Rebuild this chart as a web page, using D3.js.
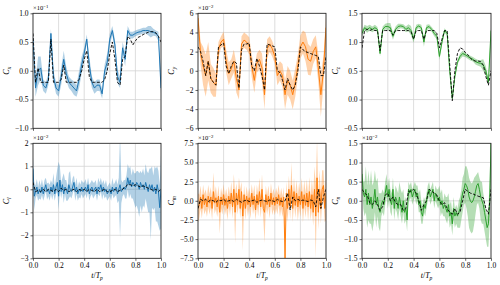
<!DOCTYPE html>
<html>
<head>
<meta charset="utf-8">
<script src="https://cdn.jsdelivr.net/npm/d3@7"></script>
<style>
  body { margin: 0; background: #fff; }
  text { font-family: "Liberation Serif", serif; fill: #000; }
</style>
</head>
<body>
<div id="chart"></div>
<script>
////////////////////////////////////////////////////////////////////////////////////////
// Data (read from the picture), force coeffs sampled every 0.02, moments every 0.01
var xTicks = [0, 0.2, 0.4, 0.6, 0.8, 1.0];

// Cx (x 10^-1)
var cxMean = [0.55,-0.3,0.0,0.05,-0.25,-0.3,-0.15,0.65,-0.1,-0.3,-0.35,-0.1,0.2,-0.05,-0.2,-0.25,-0.3,-0.35,-0.15,0.1,0.3,0.55,0.1,-0.2,-0.3,-0.25,-0.25,-0.4,0.0,0.15,0.55,0.7,0.45,-0.1,-0.2,0.4,0.2,0.7,0.62,0.62,0.65,0.67,0.68,0.7,0.7,0.7,0.68,0.67,0.65,0.6,-0.3];
var cxStd = [0.1,0.15,0.25,0.2,0.1,0.1,0.1,0.08,0.1,0.1,0.1,0.15,0.15,0.12,0.1,0.1,0.12,0.1,0.15,0.15,0.1,0.08,0.15,0.1,0.1,0.1,0.1,0.08,0.12,0.15,0.1,0.08,0.1,0.12,0.1,0.1,0.12,0.08,0.06,0.06,0.05,0.05,0.05,0.05,0.05,0.08,0.1,0.06,0.05,0.08,0.1];
var cxRef = [0.65,-0.2,0.05,-0.2,-0.2,-0.2,-0.2,0.55,-0.2,-0.2,-0.2,-0.15,0.1,-0.2,-0.2,-0.2,-0.2,-0.2,-0.15,0.0,0.2,0.35,-0.1,-0.2,-0.2,-0.2,-0.2,-0.2,-0.15,0.0,0.3,0.5,0.2,-0.2,-0.25,0.2,0.25,0.6,0.55,0.45,0.52,0.58,0.6,0.63,0.65,0.67,0.68,0.68,0.66,0.6,0.5];

// Cy (x 10^-2)
var cyMean = [5.5,1.8,0.5,-0.5,1.0,-0.8,-1.2,-1.5,2.2,3.0,3.3,1.0,-0.3,0.2,1.0,-0.8,-2.0,2.8,3.2,3.0,2.6,0.5,-1.0,0.8,1.2,0.3,-2.5,2.3,2.8,2.3,1.5,-0.5,0.0,-0.5,-2.5,-1.0,-1.5,-2.5,-1.2,0.5,2.5,3.0,2.5,1.2,1.0,2.0,2.5,0.3,-2.5,0.0,4.5];
var cyStd = [1.0,1.2,2.0,2.2,2.0,1.5,1.5,1.2,0.8,0.6,0.8,1.2,1.2,1.0,1.2,1.5,1.0,0.8,0.8,0.8,0.9,1.2,1.3,1.0,1.0,1.5,1.5,1.0,0.8,0.8,0.8,1.0,1.0,1.2,1.5,1.5,1.5,1.5,1.5,1.2,1.2,1.2,1.5,1.6,1.5,1.3,1.2,1.5,2.3,1.5,1.2];
var cyRef = [2.5,2.0,1.0,-0.5,1.0,-0.8,-1.2,-1.5,2.5,2.7,2.9,0.5,-0.3,0.5,1.0,0.8,-1.8,2.2,2.8,2.8,2.9,0.5,0.0,1.3,0.5,-0.5,-2.0,2.8,2.7,2.6,2.5,0.0,-0.2,-1.0,-2.0,-0.8,-1.5,-2.0,-1.5,0.0,2.5,2.2,2.0,1.9,1.8,1.7,1.6,1.5,-0.5,-0.5,1.5];

// Cz
var czMean = [1.15,1.25,1.22,1.25,1.22,1.25,1.22,0.8,1.22,1.27,1.27,1.25,1.1,1.22,1.27,1.28,1.27,1.22,1.25,1.2,1.05,1.25,1.28,1.25,1.0,1.25,1.27,1.22,1.15,1.1,0.75,1.0,1.2,1.15,0.5,0.02,0.4,0.65,0.75,0.8,0.78,0.75,0.72,0.7,0.66,0.64,0.63,0.6,0.5,0.3,1.2];
var czStd = [0.05,0.05,0.06,0.05,0.05,0.05,0.04,0.05,0.05,0.05,0.06,0.08,0.06,0.05,0.05,0.04,0.04,0.05,0.06,0.08,0.06,0.05,0.04,0.05,0.08,0.05,0.04,0.04,0.05,0.05,0.06,0.06,0.04,0.04,0.04,0.03,0.04,0.04,0.05,0.05,0.04,0.04,0.04,0.04,0.05,0.05,0.06,0.1,0.08,0.06,0.05];
var czRef = [0.9,1.2,1.22,1.2,1.22,1.2,1.2,0.85,1.2,1.2,1.2,1.2,1.12,1.2,1.2,1.2,1.2,1.2,1.2,1.18,1.05,1.2,1.2,1.2,1.05,1.2,1.2,1.2,1.2,1.15,0.9,1.05,1.2,1.2,0.6,-0.02,0.5,0.8,0.9,0.88,0.82,0.78,0.72,0.68,0.67,0.67,0.66,0.6,0.4,0.25,0.5];

// Cl (x 10^-2)
var clMean = [0.9,-0.3,-0.1,0.1,-0.2,0.0,-0.15,0.1,-0.2,0.0,
  0.2,-0.1,0.0,-0.2,0.1,-0.1,0.2,-0.2,0.1,0.3,
  -0.3,0.4,-0.1,0.2,-0.2,0.1,0.0,-0.2,0.2,0.0,
  -0.1,0.1,0.3,-0.1,0.1,-0.2,0.0,-0.1,0.1,-0.1,
  0.0,0.1,-0.1,0.2,-0.2,0.0,0.1,-0.1,0.0,0.1,
  -0.2,0.1,0.0,0.2,-0.1,0.1,-0.1,0.0,-0.2,-0.1,
  0.0,-0.2,0.1,-0.1,0.0,0.1,-0.2,0.0,0.2,-0.1,
  0.0,0.1,0.0,0.1,0.5,0.2,0.4,0.1,0.3,0.2,
  0.1,0.3,0.2,0.0,0.3,0.1,0.2,0.0,0.3,0.1,
  -0.1,0.2,0.0,0.2,-0.1,0.1,-0.2,0.2,-0.1,-0.8,0.0];
var clUp = [0.5,0.4,0.3,0.35,0.3,0.4,0.3,0.35,0.3,0.4,
  0.3,0.35,0.3,0.4,0.3,0.35,0.5,0.3,0.4,0.6,
  1.5,0.6,0.4,0.3,0.9,0.3,0.4,0.3,0.5,0.8,
  0.3,0.4,0.3,0.3,0.4,0.3,0.35,0.3,0.3,0.4,
  0.3,0.35,0.3,0.3,0.4,0.3,0.3,0.4,0.3,0.3,
  0.3,0.4,0.3,0.3,0.35,0.3,0.3,0.4,0.3,0.3,
  0.3,0.3,0.4,0.3,0.3,0.35,0.4,0.5,2.2,0.5,
  0.3,0.3,0.4,0.5,0.6,0.7,0.6,0.5,0.6,0.5,
  0.6,0.5,0.6,0.7,0.5,0.6,0.7,0.6,0.8,0.7,
  0.8,0.7,0.9,0.8,0.7,0.9,1.1,0.8,0.9,1.0,1.5];
var clDown = [0.6,0.6,0.3,0.35,0.3,0.4,0.3,0.35,0.3,0.3,
  0.3,0.35,0.3,0.3,0.3,0.35,0.4,0.3,0.3,0.4,
  0.6,0.4,0.3,0.3,0.4,0.3,0.5,0.3,0.6,0.3,
  0.3,0.3,0.3,0.4,0.3,0.3,0.35,0.3,0.3,0.3,
  0.3,0.3,0.3,0.3,0.3,0.3,0.3,0.3,0.3,0.3,
  0.3,0.3,0.3,0.3,0.35,0.3,0.3,0.3,0.3,0.3,
  0.3,0.3,0.3,0.3,0.3,0.35,0.4,0.5,2.3,0.5,
  0.3,0.3,0.4,0.5,0.5,0.6,0.6,0.5,0.7,0.8,
  0.9,1.0,1.1,1.2,1.0,1.1,0.9,0.8,0.7,0.8,
  0.9,1.2,2.2,1.0,0.8,0.9,1.2,1.6,1.5,1.0,1.7];
var clRef = [0.3,-0.1,-0.05,-0.1,0.0,-0.1,0.0,-0.05,-0.1,0.0,-0.1,0.05,-0.05,0.0,-0.1,-0.05,0.0,-0.1,0.0,-0.05,0.0,-0.1,0.0,-0.05,-0.1,0.0,-0.1,-0.05,0.0,-0.1,-0.1,-0.05,0.0,-0.1,-0.05,0.0,0.1,0.2,0.2,0.15,0.2,0.15,0.1,0.15,0.1,0.05,0.0,-0.05,0.0,-0.1,0.0];

// Cm (x 10^-2)
var cmMean = [-1.0,-0.5,0.5,-1.0,0.8,-0.5,0.3,-0.8,0.6,-0.3,
  0.5,-1.0,1.2,-0.3,0.4,-0.8,0.6,-1.5,0.5,-0.5,
  0.8,-0.6,0.3,-1.0,0.6,-0.4,1.0,-0.8,1.5,-1.5,
  1.0,-0.5,1.5,-1.0,1.2,-2.0,0.8,-1.0,0.6,-0.5,
  0.4,-0.8,1.0,-0.5,0.6,-1.2,0.8,-0.5,1.2,-0.8,
  1.5,-1.0,-1.5,0.8,-0.5,0.6,-0.8,1.0,-0.5,0.4,
  -0.6,0.5,-0.4,0.8,-0.6,0.4,-0.8,0.5,-7.5,1.0,
  -1.0,1.5,-0.8,2.0,-1.0,1.2,-0.6,1.0,-0.8,0.6,
  -0.5,1.2,-1.0,0.8,-0.6,1.0,-0.8,1.2,-1.0,0.8,
  -1.5,1.5,-2.0,3.0,-1.5,1.5,-1.0,1.5,2.0,-1.0,1.0];
var cmUp = [2.0,1.3,1.5,1.2,1.3,1.4,1.2,1.3,1.5,1.2,
  1.3,1.2,2.5,1.3,1.5,1.2,1.4,1.3,1.2,1.3,
  1.4,1.2,1.3,1.5,1.3,1.2,1.5,1.3,2.0,2.5,
  1.3,1.2,1.5,2.5,1.3,1.3,1.2,1.4,1.3,1.2,
  1.3,1.4,1.2,1.3,1.5,1.2,1.3,1.4,1.8,1.2,
  2.0,1.3,1.3,1.2,1.3,1.4,1.2,1.3,1.4,1.2,
  1.3,1.2,1.4,1.3,1.2,1.3,1.4,1.3,1.5,1.5,
  1.5,1.8,1.3,3.0,1.5,1.8,1.5,1.7,1.5,1.8,
  1.5,1.8,1.5,1.9,1.6,1.8,1.5,1.9,1.6,2.0,
  2.2,3.0,4.0,5.0,2.5,2.5,2.0,2.5,2.0,2.0,2.0];
var cmDown = [1.8,1.8,1.5,1.3,1.5,1.3,1.5,1.3,1.4,1.5,
  1.3,1.5,1.3,1.4,1.5,1.3,1.5,2.8,1.5,1.3,
  1.5,1.3,1.4,1.5,1.3,1.5,1.3,1.5,1.4,4.0,
  1.5,1.3,1.5,1.3,1.5,4.5,1.4,1.5,1.3,1.5,
  1.3,1.5,1.4,1.3,1.5,1.3,1.4,1.5,1.3,1.4,
  1.5,1.3,4.0,1.5,1.3,1.4,1.5,1.3,1.4,1.5,
  1.3,1.5,1.4,1.3,1.5,1.4,1.3,1.5,0.5,1.5,
  1.8,1.5,1.6,1.5,1.8,1.5,1.6,1.5,1.8,1.5,
  1.6,1.5,1.8,1.5,1.6,1.5,1.8,1.6,1.5,1.8,
  1.8,1.6,5.5,1.8,2.2,1.8,2.0,1.8,2.2,1.8,3.5];
var cmRef = [-1.0,0.2,0.0,0.2,-0.1,0.1,0.0,-0.2,0.1,0.0,0.2,-0.1,0.0,0.1,-0.1,0.2,0.0,-0.2,0.0,0.1,-0.1,0.0,0.1,-0.2,0.0,0.1,0.0,-0.1,0.1,0.0,-0.1,0.2,0.0,-0.1,0.0,1.0,-1.2,0.5,0.0,0.2,0.0,0.1,0.0,-0.1,0.1,0.0,-0.8,1.5,-1.0,0.5,1.5];

// Cn (x 10^-2)
var cnMean = [0.7,0.2,0.1,0.3,-0.1,0.2,-0.1,0.1,-0.2,0.0,
  0.3,-0.1,0.1,-0.2,-0.3,-0.1,0.0,-0.1,0.2,0.4,
  0.1,0.3,0.0,-0.1,0.3,-0.2,0.1,0.0,-0.2,0.1,
  -0.1,-0.3,0.0,-0.3,-0.2,-0.5,0.3,0.2,0.3,0.1,
  0.2,0.3,0.1,0.2,-0.1,0.0,-0.3,-0.4,-0.1,-0.2,
  0.0,0.2,0.3,0.1,0.2,0.3,0.0,0.2,0.1,0.0,
  0.1,-0.1,0.0,-0.2,-0.1,-0.2,-0.3,-0.1,-0.4,-0.3,
  -0.6,-0.2,-0.4,-0.3,-0.4,-0.3,-0.2,0.0,0.2,0.3,
  0.45,0.4,0.3,0.1,0.0,-0.05,0.0,0.1,0.25,0.4,
  0.45,0.3,0.1,0.0,-0.1,-0.3,-0.5,-0.7,-0.6,0.0,1.5];
var cnUp = [0.3,0.3,0.4,0.6,0.5,0.6,0.5,0.7,0.6,0.5,
  0.5,0.6,0.5,0.4,0.5,0.3,0.3,0.3,0.3,0.3,
  0.3,0.3,0.3,0.3,0.3,0.3,0.3,0.3,0.4,0.4,
  0.4,0.5,0.3,0.3,0.3,0.3,0.2,0.2,0.2,0.2,
  0.2,0.2,0.3,0.2,0.3,0.3,0.3,0.3,0.2,0.2,
  0.2,0.2,0.2,0.2,0.2,0.2,0.2,0.2,0.2,0.3,
  0.3,0.3,0.3,0.2,0.3,0.3,0.4,0.3,0.3,0.3,
  0.3,0.3,0.2,0.2,0.2,0.3,0.3,0.3,0.4,0.4,
  0.45,0.5,0.5,0.5,0.5,0.5,0.5,0.5,0.4,0.3,
  0.3,0.3,0.4,0.5,0.3,0.3,0.3,0.3,0.4,0.6,0.5];
var cnDown = [0.3,0.4,0.5,0.6,0.6,0.7,0.5,0.7,0.6,0.6,
  0.6,0.6,0.5,0.5,0.5,0.3,0.3,0.3,0.3,0.3,
  0.3,0.3,0.3,0.3,0.3,0.3,0.3,0.3,0.3,0.3,
  0.3,0.3,0.3,0.3,0.3,0.3,0.2,0.2,0.2,0.2,
  0.2,0.2,0.2,0.2,0.2,0.3,0.3,0.2,0.2,0.2,
  0.2,0.2,0.2,0.2,0.2,0.2,0.2,0.2,0.2,0.2,
  0.2,0.3,0.3,0.2,0.3,0.3,0.3,0.3,0.3,0.3,
  0.3,0.3,0.3,0.3,0.3,0.4,0.5,0.5,0.5,0.4,
  0.5,0.6,0.7,0.8,0.8,0.8,0.8,0.7,0.6,0.5,
  0.5,0.5,0.6,0.6,0.5,0.5,0.5,0.5,0.6,0.6,0.5];
var cnRef = [0.3,0.2,0.15,-0.05,-0.1,0.0,-0.1,-0.25,-0.15,0.15,0.2,0.0,0.1,-0.05,-0.1,-0.1,-0.25,-0.2,0.25,0.25,0.3,0.2,0.0,-0.25,-0.1,0.0,0.3,0.25,0.2,0.15,0.0,-0.1,-0.05,-0.2,-0.3,-0.35,-0.2,-0.35,-0.3,0.0,0.3,0.25,0.2,0.18,0.15,0.12,0.1,0.08,-0.2,-0.35,0.3];

////////////////////////////////////////////////////////////////////////////////////////
// Panels
var panels = [
  {name: "x", mean: cxMean, up: cxStd, down: cxStd, ref: cxRef, color: "#1f77b4", dom: [-1, 1], ticks: [-1, -0.5, 0, 0.5, 1], fmt: ".1f", exp: "−1", col: 0, row: 0},
  {name: "y", mean: cyMean, up: cyStd, down: cyStd, ref: cyRef, color: "#ff7f0e", dom: [-6, 6], ticks: [-6, -4, -2, 0, 2, 4, 6], fmt: "d", exp: "−2", col: 1, row: 0},
  {name: "z", mean: czMean, up: czStd, down: czStd, ref: czRef, color: "#2ca02c", dom: [-0.5, 1.5], ticks: [-0.5, 0, 0.5, 1, 1.5], fmt: ".1f", exp: null, col: 2, row: 0},
  {name: "l", mean: clMean, up: clUp, down: clDown, ref: clRef, color: "#1f77b4", dom: [-3, 2], ticks: [-3, -2, -1, 0, 1, 2], fmt: "d", exp: "−2", col: 0, row: 1},
  {name: "m", mean: cmMean, up: cmUp, down: cmDown, ref: cmRef, color: "#ff7f0e", dom: [-7.5, 7.5], ticks: [-7.5, -5, -2.5, 0, 2.5, 5, 7.5], fmt: ".1f", exp: "−2", col: 1, row: 1},
  {name: "n", mean: cnMean, up: cnUp, down: cnDown, ref: cnRef, color: "#2ca02c", dom: [-1.5, 1.5], ticks: [-1.5, -1, -0.5, 0, 0.5, 1, 1.5], fmt: ".1f", exp: "−2", col: 2, row: 1}
];

var svgWidth = 500, svgHeight = 285;
var colX = [[33, 161], [198, 326], [362, 491]];
var rowY = [[13.3, 128.3], [143.3, 258.3]];

var svg = d3.select("#chart").append("svg").attr("width", svgWidth).attr("height", svgHeight);

var minus = s => s.replace("-", "−");

panels.forEach(function (p) {
  var x0 = colX[p.col][0], x1 = colX[p.col][1];
  var y0 = rowY[p.row][0], y1 = rowY[p.row][1];
  var w = x1 - x0, h = y1 - y0;

  var g = svg.append("g").attr("transform", `translate(${x0}, ${y0})`);
  var x = d3.scaleLinear().domain([0, 1]).range([0, w]);
  var y = d3.scaleLinear().domain(p.dom).range([h, 0]);

  // clip
  var clipId = "clip-" + p.name;
  g.append("clipPath").attr("id", clipId).append("rect").attr("width", w).attr("height", h);

  // grid
  g.append("g").selectAll("line").data(xTicks).join("line")
    .attr("x1", d => x(d)).attr("x2", d => x(d)).attr("y1", 0).attr("y2", h)
    .attr("stroke", "#d4d4d4").attr("stroke-width", 0.8);
  g.append("g").selectAll("line").data(p.ticks).join("line")
    .attr("y1", d => y(d)).attr("y2", d => y(d)).attr("x1", 0).attr("x2", w)
    .attr("stroke", "#d4d4d4").attr("stroke-width", 0.8);

  var tm = d3.range(p.mean.length).map(i => i / (p.mean.length - 1));
  var tr = d3.range(p.ref.length).map(i => i / (p.ref.length - 1));

  var plot = g.append("g").attr("clip-path", `url(#${clipId})`);

  var area = d3.area()
    .x((d, i) => x(tm[i]))
    .y0((d, i) => y(d - p.down[i]))
    .y1((d, i) => y(d + p.up[i]));
  plot.append("path").datum(p.mean).attr("d", area)
    .attr("fill", p.color).attr("fill-opacity", 0.35);

  var lineM = d3.line().x((d, i) => x(tm[i])).y(d => y(d));
  plot.append("path").datum(p.mean).attr("d", lineM)
    .attr("fill", "none").attr("stroke", p.color).attr("stroke-width", 1);

  var lineR = d3.line().x((d, i) => x(tr[i])).y(d => y(d));
  plot.append("path").datum(p.ref).attr("d", lineR)
    .attr("fill", "none").attr("stroke", "#000").attr("stroke-width", 0.9)
    .attr("stroke-dasharray", "3,1.6");

  // axes
  var yAxis = g.append("g").call(d3.axisLeft(y).tickValues(p.ticks).tickSize(2.5).tickPadding(2)
    .tickFormat(d => minus(d3.format(p.fmt)(d))));
  var xAxis = g.append("g").attr("transform", `translate(0, ${h})`)
    .call(d3.axisBottom(x).tickValues(xTicks).tickSize(2.5).tickPadding(2)
      .tickFormat(p.row === 1 ? d3.format(".1f") : ""));
  [yAxis, xAxis].forEach(function (a) {
    a.select(".domain").remove();
    a.selectAll("line").attr("stroke", "#222").attr("stroke-width", 0.7);
    a.selectAll("text").style("font-family", "Liberation Serif, serif").style("font-size", "7.5px").attr("fill", "#000");
  });

  // frame
  g.append("rect").attr("width", w).attr("height", h)
    .attr("fill", "none").attr("stroke", "#222").attr("stroke-width", 0.8);

  // y label
  var yl = g.append("text")
    .attr("transform", `translate(${-24}, ${h / 2}) rotate(-90)`)
    .attr("text-anchor", "middle").style("font-size", "8px");
  yl.append("tspan").style("font-style", "italic").text("C");
  yl.append("tspan").attr("dy", 1.5).style("font-size", "5.5px").style("font-style", "italic").text(p.name);

  // exponent
  if (p.exp) {
    var ex = g.append("text").attr("x", 0).attr("y", -3).style("font-size", "6.5px");
    ex.append("tspan").text("×10");
    ex.append("tspan").attr("dy", -2.5).style("font-size", "4.8px").text(p.exp);
  }

  // x label
  if (p.row === 1) {
    var xl = g.append("text").attr("x", w / 2).attr("y", h + 20)
      .attr("text-anchor", "middle").style("font-size", "8px");
    xl.append("tspan").style("font-style", "italic").text("t");
    xl.append("tspan").text("/");
    xl.append("tspan").style("font-style", "italic").text("T");
    xl.append("tspan").attr("dy", 1.5).style("font-size", "5.5px").style("font-style", "italic").text("p");
  }
});
</script>
</body>
</html>
